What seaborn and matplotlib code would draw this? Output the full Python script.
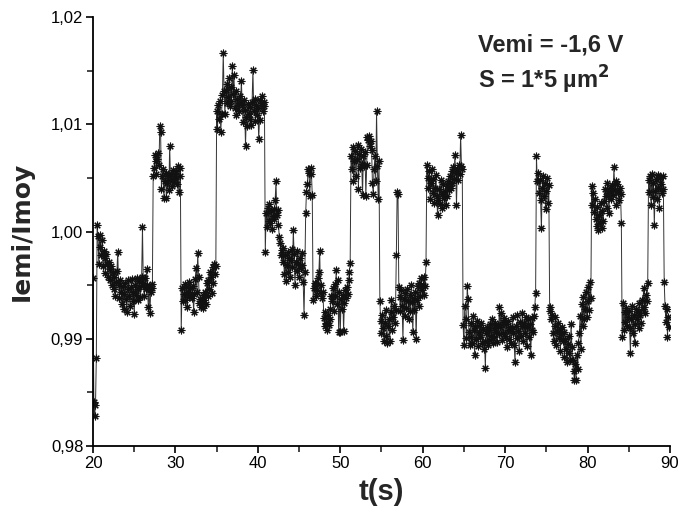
import numpy as np
import pandas as pd
import matplotlib
matplotlib.use("Agg")
import matplotlib.pyplot as plt
import seaborn as sns
from matplotlib.ticker import FuncFormatter, MultipleLocator

# one row per second (t = 20 ... 89), 10 samples per row (0.1 s apart)
t_start = 20.0
dt = 0.1
rows = [
    [0.9957, 0.9841, 0.9828, 0.9838, 0.9882, 1.0006, 0.9996, 0.9970, 0.9997, 0.9986],  # 20
    [0.9978, 0.9992, 0.9968, 0.9982, 0.9975, 0.9961, 0.9979, 0.9970, 0.9958, 0.9972],
    [0.9965, 0.9955, 0.9968, 0.9950, 0.9962, 0.9946, 0.9958, 0.9940, 0.9953, 0.9963],
    [0.9981, 0.9950, 0.9938, 0.9955, 0.9944, 0.9932, 0.9949, 0.9928, 0.9942, 0.9952],
    [0.9937, 0.9925, 0.9946, 0.9955, 0.9940, 0.9931, 0.9948, 0.9956, 0.9935, 0.9944],
    [0.9923, 0.9950, 0.9941, 0.9957, 0.9936, 0.9946, 0.9954, 0.9939, 0.9949, 0.9958],  # 25
    [1.0004, 0.9952, 0.9940, 0.9957, 0.9946, 0.9965, 0.9950, 0.9930, 0.9947, 0.9924],
    [0.9944, 0.9951, 0.9947, 1.0052, 1.0059, 1.0071, 1.0066, 1.0054, 1.0068, 1.0073],
    [1.0062, 1.0098, 1.0093, 1.0040, 1.0052, 1.0058, 1.0031, 1.0047, 1.0055, 1.0031],
    [1.0045, 1.0052, 1.0039, 1.0080, 1.0048, 1.0054, 1.0042, 1.0057, 1.0046, 1.0052],
    [1.0049, 1.0056, 1.0044, 1.0061, 1.0037, 1.0059, 1.0052, 0.9908, 0.9947, 0.9935],  # 30
    [0.9942, 0.9951, 0.9936, 0.9948, 0.9930, 0.9944, 0.9953, 0.9939, 0.9947, 0.9941],
    [0.9938, 0.9949, 0.9925, 0.9942, 0.9956, 0.9966, 0.9944, 0.9980, 0.9958, 0.9933],
    [0.9937, 0.9930, 0.9934, 0.9941, 0.9929, 0.9936, 0.9944, 0.9932, 0.9952, 0.9940],
    [0.9955, 0.9946, 0.9962, 0.9958, 0.9943, 0.9967, 0.9952, 0.9970, 0.9960, 0.9968],
    [1.0112, 1.0096, 1.0118, 1.0105, 1.0122, 1.0093, 1.0110, 1.0127, 1.0166, 1.0131],  # 35
    [1.0110, 1.0132, 1.0120, 1.0138, 1.0125, 1.0143, 1.0117, 1.0135, 1.0122, 1.0154],
    [1.0128, 1.0146, 1.0115, 1.0131, 1.0109, 1.0124, 1.0118, 1.0112, 1.0126, 1.0120],
    [1.0140, 1.0118, 1.0102, 1.0123, 1.0113, 1.0080, 1.0107, 1.0098, 1.0119, 1.0110],
    [1.0105, 1.0116, 1.0099, 1.0121, 1.0151, 1.0112, 1.0124, 1.0103, 1.0118, 1.0109],
    [1.0115, 1.0086, 1.0104, 1.0123, 1.0118, 1.0126, 1.0112, 1.0121, 1.0117, 0.9981],  # 40
    [1.0017, 1.0004, 1.0022, 1.0010, 1.0026, 1.0008, 1.0019, 1.0002, 1.0014, 1.0021],
    [1.0012, 1.0029, 1.0047, 1.0015, 1.0020, 1.0006, 0.9995, 0.9989, 0.9978, 0.9983],
    [0.9972, 0.9985, 0.9960, 0.9978, 0.9954, 0.9969, 0.9981, 0.9962, 0.9975, 0.9958],
    [0.9973, 0.9984, 0.9967, 1.0001, 0.9979, 0.9950, 0.9972, 0.9963, 0.9982, 0.9970],
    [0.9958, 0.9975, 0.9966, 0.9980, 0.9969, 0.9953, 0.9922, 0.9962, 1.0017, 1.0037],  # 45
    [1.0044, 1.0058, 1.0055, 1.0033, 1.0059, 1.0054, 1.0034, 0.9936, 0.9947, 0.9952],
    [0.9940, 0.9951, 0.9945, 0.9957, 0.9962, 0.9982, 0.9943, 0.9950, 0.9938, 0.9944],
    [0.9919, 0.9912, 0.9925, 0.9915, 0.9908, 0.9922, 0.9913, 0.9918, 0.9928, 0.9940],
    [0.9935, 0.9947, 0.9926, 0.9951, 0.9940, 0.9964, 0.9932, 0.9955, 0.9906, 0.9944],
    [0.9906, 0.9937, 0.9928, 0.9941, 0.9907, 0.9933, 0.9945, 0.9938, 0.9948, 0.9942],  # 50
    [0.9955, 0.9962, 0.9971, 1.0070, 1.0058, 1.0079, 1.0047, 1.0066, 1.0075, 1.0052],
    [1.0068, 1.0081, 1.0040, 1.0072, 1.0059, 1.0077, 1.0063, 1.0034, 1.0070, 1.0061],
    [1.0074, 1.0033, 1.0062, 1.0088, 1.0085, 1.0089, 1.0080, 1.0084, 1.0076, 1.0045],
    [1.0035, 1.0058, 1.0070, 1.0047, 1.0112, 1.0061, 1.0030, 1.0066, 0.9935, 0.9917],
    [0.9905, 0.9922, 0.9910, 0.9898, 0.9915, 0.9927, 0.9903, 0.9896, 0.9912, 0.9918],  # 55
    [0.9898, 0.9925, 0.9936, 0.9908, 0.9920, 0.9931, 0.9915, 0.9927, 0.9978, 1.0037],
    [1.0035, 0.9948, 0.9939, 0.9926, 0.9945, 0.9931, 0.9899, 0.9937, 0.9921, 0.9943],
    [0.9929, 0.9946, 0.9935, 0.9918, 0.9941, 0.9926, 0.9950, 0.9934, 0.9906, 0.9938],
    [0.9927, 0.9944, 0.9900, 0.9936, 0.9949, 0.9931, 0.9952, 0.9940, 0.9957, 0.9945],
    [0.9950, 0.9941, 0.9958, 0.9949, 0.9972, 1.0062, 1.0050, 1.0041, 1.0056, 1.0030],  # 60
    [1.0045, 1.0058, 1.0036, 1.0049, 1.0027, 1.0041, 1.0053, 1.0033, 1.0015, 1.0029],
    [1.0040, 1.0026, 1.0048, 1.0035, 1.0022, 1.0044, 1.0031, 1.0038, 1.0025, 1.0042],
    [1.0033, 1.0047, 1.0039, 1.0052, 1.0041, 1.0056, 1.0045, 1.0060, 1.0049, 1.0071],
    [1.0055, 1.0025, 1.0058, 1.0048, 1.0062, 1.0054, 1.0090, 1.0061, 1.0058, 0.9913],
    [0.9894, 0.9931, 0.9918, 0.9901, 0.9949, 0.9937, 0.9906, 0.9894, 0.9915, 0.9902],  # 65
    [0.9896, 0.9921, 0.9908, 0.9885, 0.9912, 0.9900, 0.9917, 0.9893, 0.9906, 0.9913],
    [0.9902, 0.9915, 0.9896, 0.9909, 0.9890, 0.9898, 0.9873, 0.9905, 0.9911, 0.9894],
    [0.9908, 0.9899, 0.9914, 0.9903, 0.9918, 0.9896, 0.9910, 0.9902, 0.9915, 0.9906],
    [0.9897, 0.9913, 0.9904, 0.9930, 0.9911, 0.9924, 0.9899, 0.9916, 0.9905, 0.9919],
    [0.9903, 0.9914, 0.9892, 0.9908, 0.9917, 0.9900, 0.9911, 0.9896, 0.9909, 0.9920],  # 70
    [0.9905, 0.9894, 0.9878, 0.9912, 0.9901, 0.9922, 0.9907, 0.9889, 0.9916, 0.9903],
    [0.9912, 0.9924, 0.9898, 0.9915, 0.9905, 0.9920, 0.9893, 0.9911, 0.9918, 0.9902],
    [0.9914, 0.9885, 0.9908, 0.9919, 0.9906, 0.9921, 0.9930, 0.9943, 1.0070, 1.0047],
    [1.0055, 1.0036, 1.0048, 1.0029, 1.0003, 1.0041, 1.0052, 1.0033, 1.0045, 1.0021],
    [1.0038, 1.0050, 1.0027, 1.0043, 0.9930, 0.9926, 0.9918, 0.9922, 0.9905, 0.9898],  # 75
    [0.9912, 0.9920, 0.9894, 0.9907, 0.9915, 0.9901, 0.9909, 0.9889, 0.9904, 0.9911],
    [0.9898, 0.9906, 0.9883, 0.9900, 0.9890, 0.9878, 0.9895, 0.9903, 0.9887, 0.9880],
    [0.9914, 0.9892, 0.9880, 0.9870, 0.9862, 0.9876, 0.9862, 0.9885, 0.9872, 0.9896],
    [0.9905, 0.9921, 0.9890, 0.9932, 0.9912, 0.9939, 0.9918, 0.9928, 0.9944, 0.9920],
    [0.9935, 0.9948, 0.9927, 0.9953, 0.9938, 1.0042, 1.0025, 1.0036, 1.0018, 1.0030],  # 80
    [1.0012, 1.0005, 1.0023, 1.0001, 1.0015, 1.0008, 1.0027, 1.0003, 1.0019, 1.0010],
    [1.0028, 1.0040, 1.0033, 1.0022, 1.0045, 1.0036, 1.0017, 1.0041, 1.0030, 1.0038],
    [1.0043, 1.0034, 1.0060, 1.0039, 1.0047, 1.0025, 1.0044, 1.0037, 1.0029, 1.0041],
    [1.0035, 1.0008, 0.9902, 0.9933, 0.9908, 0.9925, 0.9916, 0.9929, 0.9912, 0.9920],
    [0.9926, 0.9910, 0.9887, 0.9918, 0.9931, 0.9905, 0.9922, 0.9896, 0.9914, 0.9928],  # 85
    [0.9918, 0.9925, 0.9910, 0.9933, 0.9922, 0.9915, 0.9936, 0.9928, 0.9947, 0.9930],
    [0.9924, 0.9941, 0.9935, 0.9952, 1.0048, 1.0037, 1.0052, 1.0025, 1.0054, 1.0032],
    [1.0045, 1.0006, 1.0038, 1.0049, 1.0030, 1.0053, 1.0041, 1.0022, 1.0050, 1.0044],
    [1.0036, 1.0052, 1.0040, 0.9953, 0.9931, 0.9916, 0.9928, 0.9902, 0.9920, 0.9911],
]

x_ticks = [20, 30, 40, 50, 60, 70, 80, 90]
y_ticks = [0.98, 0.99, 1.00, 1.01, 1.02]

ratio = np.concatenate([np.array(r) for r in rows])
t = t_start + dt * np.arange(len(ratio))
df = pd.DataFrame({"t": t, "ratio": ratio})

sns.set_style("ticks")
plt.rcParams["font.family"] = ["Liberation Sans", "DejaVu Sans"]

fig = plt.figure(figsize=(6.79, 5.11), dpi=100)
ax = fig.add_axes([0.137, 0.1272, 0.8497, 0.8395])

sns.lineplot(data=df, x="t", y="ratio", ax=ax, color="#333333", linewidth=0.7,
             marker=(8, 2, 0), markersize=5.5, markeredgewidth=0.8,
             markeredgecolor="#111111", errorbar=None, sort=False)

ax.set_xlim(20, 90)
ax.set_ylim(0.98, 1.02)
ax.set_xticks(x_ticks)
ax.set_yticks(y_ticks)
ax.xaxis.set_minor_locator(MultipleLocator(5))
ax.yaxis.set_minor_locator(MultipleLocator(0.005))
ax.yaxis.set_major_formatter(FuncFormatter(lambda v, p: f"{v:.2f}".replace(".", ",")))
ax.tick_params(which="major", direction="out", length=5, width=1.2, labelsize=12,
               colors="black", pad=2)
ax.tick_params(which="minor", direction="out", length=4, width=1.2)
for s in ["left", "bottom"]:
    ax.spines[s].set_linewidth(1.3)
    ax.spines[s].set_color("black")
sns.despine(ax=ax)

ax.set_xlabel("t(s)", fontsize=21, fontweight="bold", labelpad=5)
ax.set_ylabel("Iemi/Imoy", fontsize=18, fontweight="bold", labelpad=12,
              family=["DejaVu Sans"])

ax.text(0.668, 0.935, "Vemi = -1,6 V", transform=ax.transAxes, fontsize=17,
        fontweight="bold", va="center", ha="left")
ax.text(0.668, 0.853, r"S = 1*5 µm$^{\mathbf{2}}$", transform=ax.transAxes, fontsize=17,
        fontweight="bold", va="center", ha="left")

fig.savefig("out.png", dpi=100)
